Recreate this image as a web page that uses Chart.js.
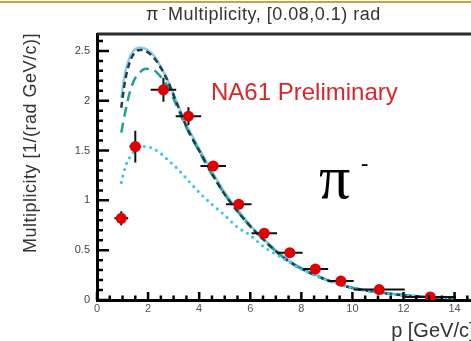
<!DOCTYPE html>
<html>
<head>
<meta charset="utf-8">
<script src="https://cdn.jsdelivr.net/npm/chart.js@4/dist/chart.umd.min.js"></script>
<style>
    html, body {
        margin: 0;
        padding: 0;
        background: #fff;
        overflow: hidden;
    }
    .rule {
        position: absolute;
        left: 0;
        top: 1px;
        width: 100%;
        height: 2px;
        background: #c6a443;
    }
    #plot {
        position: absolute;
        left: 0;
        top: 0;
    }
</style>
</head>
<body>
<div class="rule"></div>
<canvas id="plot" width="480" height="341"></canvas>
<script>
// measured pi- spectrum, 0.08-0.1 rad slice
const momentum = [0.95, 1.5, 2.6, 3.58, 4.55, 5.55, 6.55, 7.55, 8.55, 9.55, 11.05, 13.05];
const momentumErr = [0.27, 0.23, 0.5, 0.5, 0.5, 0.5, 0.5, 0.5, 0.5, 0.5, 1.0, 1.0];
const multiplicity = [0.82, 1.54, 2.11, 1.845, 1.345, 0.96, 0.67, 0.475, 0.31, 0.19, 0.105, 0.03];
const multiplicityErr = [0.07, 0.16, 0.12, 0.09, 0.05, 0.04, 0.03, 0.02, 0.02, 0.015, 0.01, 0.01];

// model predictions on a common momentum grid
const modelMomentum = [0.95, 1.1, 1.3, 1.5, 1.7, 1.9, 2.2, 2.5, 2.8, 3.1, 3.5, 4, 4.5, 5, 5.5, 6, 6.5, 7, 7.5, 8, 9, 10, 11, 12, 13, 14];
const modelSolid = [2.03, 2.28, 2.45, 2.52, 2.535, 2.52, 2.46, 2.34, 2.19, 2.0, 1.76, 1.52, 1.29, 1.08, 0.91, 0.75, 0.62, 0.5, 0.4, 0.32, 0.205, 0.125, 0.08, 0.05, 0.03, 0.02];
const modelDashDot = [1.93, 2.2, 2.4, 2.49, 2.51, 2.5, 2.44, 2.33, 2.18, 1.99, 1.74, 1.5, 1.27, 1.06, 0.89, 0.74, 0.61, 0.49, 0.39, 0.315, 0.2, 0.12, 0.078, 0.048, 0.03, 0.02];
const modelDashed = [1.68, 1.88, 2.1, 2.23, 2.29, 2.32, 2.31, 2.24, 2.13, 1.96, 1.73, 1.49, 1.26, 1.06, 0.89, 0.74, 0.61, 0.49, 0.39, 0.315, 0.2, 0.12, 0.078, 0.048, 0.03, 0.02];
const modelDotted = [1.18, 1.33, 1.44, 1.5, 1.535, 1.54, 1.52, 1.47, 1.4, 1.33, 1.22, 1.08, 0.96, 0.85, 0.73, 0.65, 0.54, 0.46, 0.385, 0.31, 0.2, 0.12, 0.078, 0.048, 0.03, 0.02];

const xTicks = [0, 2, 4, 6, 8, 10, 12, 14];
const yTicks = [0, 0.5, 1, 1.5, 2, 2.5];

const SANS = "'Liberation Sans', Arial, sans-serif";

function toPoints(xs, ys) {
    return xs.map((x, i) => ({ x: x, y: ys[i] }));
}

function curve(values, color, dash, width, cap) {
    return {
        data: toPoints(modelMomentum, values),
        showLine: true,
        borderColor: color,
        borderWidth: width,
        borderDash: dash,
        borderCapStyle: cap || "butt",
        cubicInterpolationMode: "monotone",
        pointRadius: 0,
        fill: false
    };
}

// error bars under the red markers
const errorBars = {
    id: "errorBars",
    beforeDatasetDraw(chart, args) {
        if (args.index !== 0) {
            return;
        }
        const { ctx, scales: { x, y } } = chart;
        ctx.save();
        ctx.strokeStyle = "#111";
        ctx.lineWidth = 2;
        momentum.forEach((p, i) => {
            const m = multiplicity[i];
            ctx.beginPath();
            ctx.moveTo(x.getPixelForValue(p - momentumErr[i]), y.getPixelForValue(m));
            ctx.lineTo(x.getPixelForValue(p + momentumErr[i]), y.getPixelForValue(m));
            ctx.moveTo(x.getPixelForValue(p), y.getPixelForValue(m - multiplicityErr[i]));
            ctx.lineTo(x.getPixelForValue(p), y.getPixelForValue(m + multiplicityErr[i]));
            ctx.stroke();
        });
        ctx.restore();
    }
};

// inward ticks and the top edge of the frame
const frameTicks = {
    id: "frameTicks",
    afterDraw(chart) {
        const { ctx, chartArea: area, scales: { x, y } } = chart;
        ctx.save();
        ctx.strokeStyle = "#000";
        ctx.lineWidth = 2.5;
        ctx.beginPath();
        for (let v = 0; v <= 14.75; v += 0.5) {
            const px = x.getPixelForValue(v);
            const len = v % 2 === 0 ? 8 : 4.5;
            ctx.moveTo(px, area.bottom);
            ctx.lineTo(px, area.bottom - len);
        }
        for (let k = 0; k <= 26; k++) {
            const py = y.getPixelForValue(k / 10);
            const len = k % 5 === 0 ? 12 : 6;
            ctx.moveTo(area.left, py);
            ctx.lineTo(area.left + len, py);
        }
        ctx.stroke();

        ctx.strokeStyle = "#2a2a2a";
        ctx.lineWidth = 3;
        ctx.beginPath();
        ctx.moveTo(area.left, area.top);
        ctx.lineTo(area.right, area.top);
        ctx.stroke();
        ctx.restore();
    }
};

// titles and labels
const labels = {
    id: "labels",
    afterDraw(chart) {
        const { ctx, chartArea: area } = chart;
        ctx.save();

        ctx.fillStyle = "#333";
        ctx.textBaseline = "alphabetic";
        ctx.textAlign = "left";
        ctx.font = "18px " + SANS;
        ctx.fillText("π", 146, 19.5);
        ctx.font = "11px " + SANS;
        ctx.fillText("-", 162, 12);
        ctx.font = "18px " + SANS;
        ctx.letterSpacing = "0.5px";
        ctx.fillText("Multiplicity, [0.08,0.1) rad", 168, 19.5);

        ctx.save();
        ctx.translate(36, 143);
        ctx.rotate(-Math.PI / 2);
        ctx.textAlign = "center";
        ctx.fillText("Multiplicity [1/(rad GeV/c)]", 0, 0);
        ctx.restore();

        ctx.letterSpacing = "0px";
        ctx.textAlign = "right";
        ctx.font = "20px " + SANS;
        ctx.fillStyle = "#333";
        ctx.fillText("p [GeV/c]", area.right, 337);

        ctx.textAlign = "left";
        ctx.fillStyle = "#d8262b";
        ctx.font = "24px " + SANS;
        ctx.fillText("NA61 Preliminary", 211, 100);

        ctx.fillStyle = "#000";
        ctx.font = "62px 'Liberation Serif', 'DejaVu Serif', serif";
        ctx.fillText("π", 319, 198);
        ctx.font = "bold 22px 'Liberation Serif', serif";
        ctx.fillText("-", 361, 170);

        ctx.restore();
    }
};

new Chart(document.getElementById("plot"), {
    type: "scatter",
    data: {
        datasets: [
            {
                data: toPoints(momentum, multiplicity),
                backgroundColor: "#e00000",
                borderWidth: 0,
                pointRadius: 5.5,
                showLine: false
            },
            curve(modelDotted, "#3ec6f4", [0, 6.5], 3.2, "round"),
            curve(modelDashDot, "#1d4242", [6, 4], 2.5),
            curve(modelDashed, "#22a094", [10, 6], 2.5),
            curve(modelSolid, "#8ec9f2", [], 2.5)
        ]
    },
    options: {
        responsive: false,
        animation: false,
        layout: { padding: { top: 34, right: 4, left: 0, bottom: 0 } },
        plugins: {
            legend: { display: false },
            tooltip: { enabled: false }
        },
        scales: {
            x: {
                type: "linear",
                min: 0,
                max: 14.78,
                afterBuildTicks(scale) {
                    scale.ticks = xTicks.map((v) => ({ value: v }));
                },
                afterFit(scale) {
                    scale.height = 41;
                },
                grid: { display: false, drawTicks: false },
                border: { display: true, color: "#000", width: 3 },
                ticks: {
                    padding: 2,
                    color: "#555",
                    font: { family: SANS, size: 11 },
                    callback: (value) => String(value)
                }
            },
            y: {
                type: "linear",
                min: 0,
                max: 2.67,
                afterBuildTicks(scale) {
                    scale.ticks = yTicks.map((v) => ({ value: v }));
                },
                afterFit(scale) {
                    scale.width = 97;
                },
                grid: { display: false, drawTicks: false },
                border: { display: true, color: "#000", width: 3 },
                ticks: {
                    padding: 7,
                    color: "#444",
                    font: { family: SANS, size: 11 },
                    callback: (value) => String(value)
                }
            }
        }
    },
    plugins: [errorBars, frameTicks, labels]
});
</script>
</body>
</html>
